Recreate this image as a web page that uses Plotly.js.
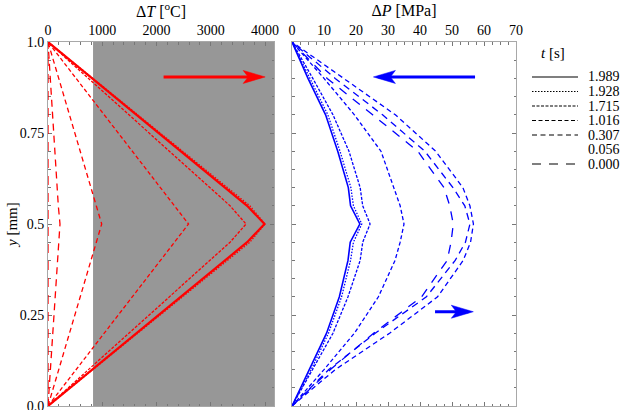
<!DOCTYPE html>
<html>
<head>
<meta charset="utf-8">
<script src="https://cdn.plot.ly/plotly-3.0.1.min.js"></script>
<style>
  html, body { margin: 0; padding: 0; background: #fff; }
  #chart { width: 624px; height: 410px; }
</style>
</head>
<body>
<div id="chart"></div>
<script>
// Time steps (legend), in seconds
const times = ['1.989', '1.928', '1.715', '1.016', '0.307', '0.056', '0.000'];
const dashes = ['solid', '1.5px,1.5px', '3px,1.5px', '4px,2.5px', '5px,3.5px', '7px,5px', '9px,8px'];

// Left panel: temperature rise across the layer
const yT = [0, 0.45, 0.5, 0.55, 1];
const dT_1989 = [0, 3670, 3990, 3670, 0];
const dT_1928 = [0, 3720, 4000, 3720, 0];
const dT_1715 = [0, 3355, 3650, 3355, 0];
const dT_1016 = [0, 2330, 2590, 2330, 0];
const dT_0307 = [0, 890, 990, 890, 0];
const dT_0056 = [0, 190, 221, 190, 0];
const dT_0000 = [0, 0, 0, 0, 0];

// Right panel: pressure rise across the layer
const yP = [0, 0.1, 0.2, 0.3, 0.4, 0.45, 0.5, 0.55, 0.6, 0.7, 0.8, 0.9, 1];
const dP_1989 = [0, 5.5, 10.8, 14.8, 17.5, 18.2, 21.2, 18.3, 17.6, 14.3, 10.5, 5.0, 0];
const dP_1928 = [0, 6.0, 11.4, 15.5, 18.3, 19.2, 21.8, 19.2, 18.4, 15.0, 11.2, 5.5, 0];
const dP_1715 = [0, 6.5, 12.8, 17.5, 21.3, 22.1, 24.4, 22.1, 21.3, 17.8, 12.8, 6.5, 0];
const dP_1016 = [0, 10.0, 19.5, 27.0, 32.2, 33.8, 35.0, 33.8, 31.8, 27.8, 19.5, 10.0, 0];
const dP_0307 = [0, 13.5, 30.5, 45.5, 53.5, 55.8, 56.7, 55.6, 53.4, 44.9, 32.3, 16.0, 0];
const dP_0056 = [0, 11.5, 26.0, 42.0, 51.0, 54.2, 55.6, 54.0, 50.3, 41.5, 28.3, 13.5, 0];
const dP_0000 = [0, 12.0, 25.5, 40.5, 48.5, 49.7, 50.4, 49.3, 47.5, 39.3, 25.2, 11.0, 0];

const dTSeries = [dT_1989, dT_1928, dT_1715, dT_1016, dT_0307, dT_0056, dT_0000];
const dPSeries = [dP_1989, dP_1928, dP_1715, dP_1016, dP_0307, dP_0056, dP_0000];

const grayStart = 830;   // start of shaded band, degC
const dTMax = 4165;

// Arrows: [axis suffix, tail x, head x, y, colour]
const arrows = [
    ['', 2130, 3910, 0.904, '#ff0000'],
    ['2', 57.2, 27.0, 0.904, '#0000ff'],
    ['2', 44.7, 55.1, 0.259, '#0000ff']
];

const serif = 'Liberation Serif, Times New Roman, serif';
const traces = [];

dTSeries.forEach((s, i) => {
    traces.push({
        x: s, y: yT, xaxis: 'x', yaxis: 'y', mode: 'lines', showlegend: false,
        line: { color: '#ff0000', width: i === 0 ? 2.2 : 1.3, dash: dashes[i] }
    });
});
dPSeries.forEach((s, i) => {
    traces.push({
        x: s, y: yP, xaxis: 'x2', yaxis: 'y2', mode: 'lines', showlegend: false,
        line: { color: '#0000ff', width: i === 0 ? 1.6 : 1.3, dash: dashes[i] }
    });
});

const axisCommon = {
    showline: true, linecolor: '#a8a8a8', linewidth: 1, mirror: 'ticks',
    ticks: 'inside', ticklen: 4, tickcolor: '#777', tickwidth: 1,
    showgrid: false, zeroline: false, automargin: false, ticklabeloverflow: 'allow',
    layer: 'below traces',
    tickfont: { family: serif, size: 14, color: '#000' }
};

const shapes = [{
    type: 'rect', xref: 'x', yref: 'y', x0: grayStart, x1: dTMax, y0: 0, y1: 1,
    fillcolor: '#979797', line: { width: 0 }, layer: 'below'
}];

// arrows: shaft in data units, stealth head in pixels at the head end
arrows.forEach(([ax, tail, head, y, color]) => {
    const dir = head > tail ? 1 : -1;
    shapes.push({
        type: 'line', xref: 'x' + ax, yref: 'y' + ax, x0: tail, x1: head, y0: y, y1: y,
        line: { color: color, width: 3 }
    });
    shapes.push({
        type: 'path', xref: 'x' + ax, yref: 'y' + ax, xsizemode: 'pixel', ysizemode: 'pixel',
        xanchor: head, yanchor: y,
        path: `M ${5 * dir} 0 L ${-17 * dir} 6.5 L ${-12 * dir} 0 L ${-17 * dir} -6.5 Z`,
        fillcolor: color, line: { color: color, width: 0.5 }
    });
});

const annotations = [
    {
        xref: 'paper', yref: 'paper', x: 12 / 624, y: 1 - 225 / 410, text: '<i>y</i> [mm]',
        xanchor: 'center', yanchor: 'middle',
        textangle: -90, showarrow: false, font: { family: serif, size: 15 }
    },
    {
        xref: 'paper', yref: 'paper', x: 553 / 624, y: 1 - 53 / 410, text: '<i>t</i> [s]',
        xanchor: 'center', yanchor: 'middle',
        showarrow: false, font: { family: serif, size: 15 }
    }
];

// legend drawn by hand: black samples and labels
times.forEach((t, i) => {
    const yPx = 77 + 14.5 * i;
    if (t !== '0.056') {
        shapes.push({
            type: 'line', xref: 'paper', yref: 'paper',
            x0: 532 / 624, x1: 578 / 624, y0: 1 - yPx / 410, y1: 1 - yPx / 410,
            line: { color: '#000', width: 1.1, dash: dashes[i] }
        });
    }
    annotations.push({
        xref: 'paper', yref: 'paper', x: 586 / 624, y: 1 - yPx / 410,
        xanchor: 'left', yanchor: 'middle',
        text: t, showarrow: false, font: { family: serif, size: 14, color: '#000' }
    });
});

const layout = {
    width: 624, height: 410,
    margin: { l: 0, r: 0, t: 0, b: 0 },
    paper_bgcolor: '#fff', plot_bgcolor: 'rgba(0,0,0,0)',
    font: { family: serif, size: 14, color: '#000' },
    showlegend: false,
    xaxis: {
        ...axisCommon, domain: [48 / 624, 274 / 624], anchor: 'y', side: 'top',
        range: [0, dTMax], tickvals: [0, 1000, 2000, 3000, 4000],
        minor: { dtick: 200, ticks: 'inside', ticklen: 2.5, tickcolor: '#777' },
        title: { text: 'Δ<i>T</i> [<sup>o</sup>C]', font: { family: serif, size: 16 }, standoff: 2 }
    },
    yaxis: {
        ...axisCommon, domain: [4 / 410, 368 / 410], anchor: 'x', range: [0, 1],
        tickvals: [0, 0.25, 0.5, 0.75, 1], ticktext: ['0.0', '0.25', '0.5', '0.75', '1.0'],
        minor: { dtick: 0.05, ticks: 'inside', ticklen: 2.5, tickcolor: '#777' }
    },
    xaxis2: {
        ...axisCommon, domain: [292 / 624, 516 / 624], anchor: 'y2', side: 'top',
        range: [0, 70], dtick: 10,
        minor: { dtick: 2.5, ticks: 'inside', ticklen: 2.5, tickcolor: '#777' },
        title: { text: 'Δ<i>P</i> [MPa]', font: { family: serif, size: 16 }, standoff: 2 }
    },
    yaxis2: {
        ...axisCommon, domain: [4 / 410, 368 / 410], anchor: 'x2', range: [0, 1],
        showticklabels: false, tickvals: [0, 0.25, 0.5, 0.75, 1],
        minor: { dtick: 0.05, ticks: 'inside', ticklen: 2.5, tickcolor: '#777' }
    },
    shapes: shapes,
    annotations: annotations
};

Plotly.newPlot('chart', traces, layout, { staticPlot: true });
</script>
</body>
</html>
